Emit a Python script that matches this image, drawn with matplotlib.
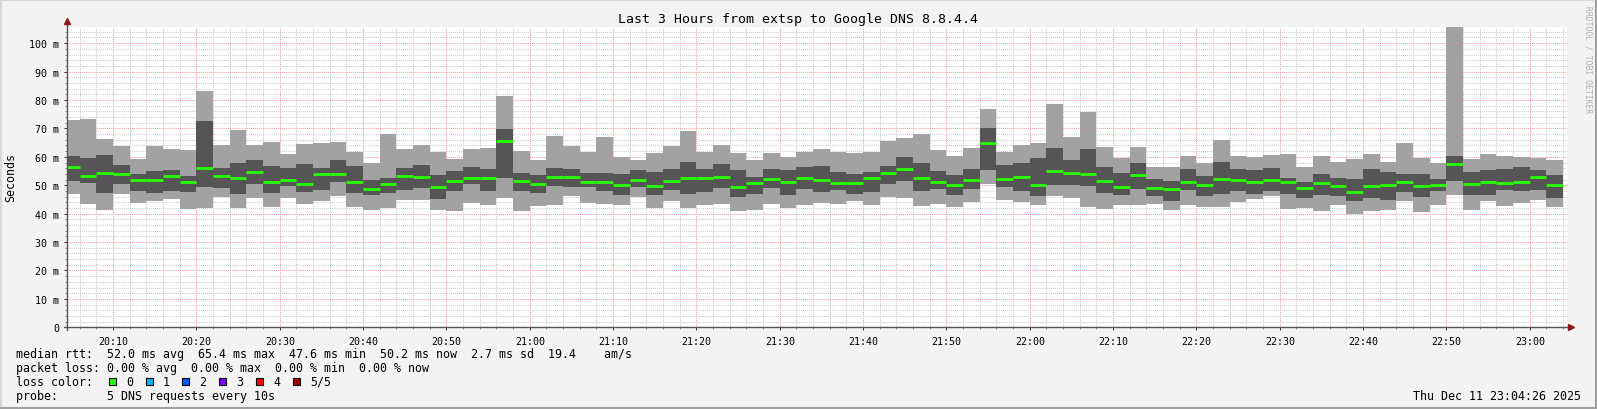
import matplotlib
matplotlib.use('Agg')
import matplotlib.pyplot as plt
from matplotlib.patches import Rectangle
from matplotlib.lines import Line2D
from matplotlib.ticker import MultipleLocator, FuncFormatter
import numpy as np

# time axis: minutes after 20:00, graph spans 20:04:26 .. 23:04:26
t_start = 4 + 26 / 60
t_end = t_start + 180
bar_edges = [t_start] + list(range(6, 185, 2))   # 2-minute smokeping steps

# five pings per step: min, 2nd, median, 4th, max (ms)
rtt_min = [47.0, 43.4, 41.3, 47.0, 43.8, 44.5, 45.2, 41.6, 42.0, 45.9,
           42.0, 45.5, 42.3, 45.5, 43.4, 44.5, 46.2, 42.3, 41.3, 42.0,
           44.8, 44.8, 41.3, 40.9, 43.8, 43.1, 45.5, 40.9, 42.7, 43.1,
           46.2, 43.8, 43.4, 43.1, 45.9, 42.0, 44.5, 42.0, 43.1, 43.4,
           40.9, 41.3, 43.4, 42.0, 43.1, 43.8, 43.4, 44.5, 43.1, 45.9,
           45.5, 42.7, 43.4, 42.3, 44.1, 50.4, 44.8, 44.1, 43.1, 46.2,
           45.5, 42.3, 41.6, 43.1, 43.1, 43.4, 41.3, 43.1, 42.3, 42.3,
           44.1, 45.2, 46.2, 41.6, 42.0, 40.9, 43.1, 40.0, 40.9, 41.3,
           44.5, 40.6, 43.1, 46.6, 41.3, 44.5, 42.7, 43.8, 44.8, 42.3]
rtt_lo = [51.5, 50.8, 47.3, 50.4, 48.0, 47.3, 48.0, 47.6, 49.4, 49.0,
          46.9, 50.4, 47.3, 49.7, 47.6, 48.3, 51.2, 47.3, 46.6, 47.3,
          48.3, 49.0, 45.2, 48.0, 50.4, 48.0, 52.6, 48.0, 47.3, 49.7,
          49.4, 49.4, 48.0, 46.6, 49.4, 46.6, 48.3, 46.9, 47.6, 49.0,
          45.9, 46.9, 49.0, 46.6, 48.7, 47.6, 48.3, 46.9, 47.6, 50.4,
          51.5, 48.0, 48.7, 46.6, 48.7, 55.4, 49.4, 48.0, 46.2, 50.1,
          50.1, 49.7, 47.3, 46.6, 48.7, 46.2, 44.5, 48.3, 46.2, 46.9,
          48.0, 46.9, 48.0, 46.9, 45.5, 46.6, 46.2, 44.5, 45.5, 44.8,
          47.6, 45.9, 48.0, 51.5, 46.6, 46.6, 48.3, 48.0, 48.3, 45.5]
rtt_median = [56.5, 53.1, 54.3, 53.8, 51.7, 51.7, 53.4, 51.0, 56.2, 53.4,
              52.4, 54.6, 51.3, 51.9, 50.6, 53.8, 54.1, 51.2, 48.7, 50.6,
              53.3, 53.0, 49.4, 51.6, 52.4, 52.4, 65.5, 51.5, 50.3, 53.0,
              53.0, 51.0, 51.0, 50.1, 51.9, 49.9, 51.4, 52.6, 52.6, 52.8,
              49.3, 50.7, 52.2, 51.3, 52.6, 51.9, 50.9, 50.7, 52.6, 54.4,
              55.7, 52.6, 51.3, 50.1, 51.7, 64.9, 52.1, 53.0, 50.2, 54.9,
              54.3, 54.0, 51.5, 49.3, 53.5, 49.0, 48.6, 51.2, 50.0, 52.2,
              51.9, 51.2, 51.7, 51.0, 48.9, 50.8, 49.6, 47.7, 49.6, 50.1,
              51.3, 49.9, 50.2, 57.5, 50.4, 51.2, 50.9, 51.2, 52.9, 50.2]
rtt_hi = [60.3, 59.6, 60.7, 57.1, 54.0, 55.0, 55.4, 53.3, 72.6, 56.1,
          57.8, 58.9, 56.8, 56.1, 57.5, 56.1, 58.9, 56.8, 51.9, 52.6,
          56.1, 57.1, 53.6, 55.0, 56.4, 55.7, 69.8, 54.4, 53.6, 56.1,
          55.7, 54.4, 54.4, 54.0, 55.4, 54.7, 55.7, 58.2, 55.7, 57.5,
          55.4, 52.9, 55.7, 55.4, 56.4, 56.8, 54.7, 54.0, 54.7, 56.8,
          60.0, 57.8, 55.0, 53.6, 55.7, 70.2, 57.1, 57.8, 59.6, 63.1,
          58.9, 62.8, 56.4, 54.4, 57.8, 52.2, 51.5, 55.7, 53.3, 58.2,
          55.7, 55.4, 56.1, 52.6, 51.2, 54.0, 52.6, 52.2, 55.7, 54.7,
          54.0, 54.0, 52.2, 60.3, 54.7, 55.4, 55.7, 56.4, 55.4, 53.6]
rtt_max = [73.0, 73.3, 66.1, 63.8, 59.2, 63.8, 62.7, 62.4, 83.2, 64.2,
           69.5, 64.2, 65.2, 61.0, 64.5, 64.8, 65.2, 61.7, 57.8, 68.1,
           62.8, 64.2, 61.7, 59.2, 62.8, 63.1, 81.4, 62.1, 58.9, 67.3,
           63.8, 61.7, 67.0, 60.0, 58.9, 61.4, 63.8, 69.1, 61.7, 64.2,
           61.4, 58.9, 61.4, 60.0, 61.7, 62.8, 61.7, 61.4, 61.7, 65.6,
           66.6, 68.1, 62.4, 60.3, 63.1, 76.9, 61.7, 64.2, 64.9, 78.6,
           67.0, 75.8, 63.5, 59.6, 63.5, 56.4, 56.4, 60.3, 57.8, 66.0,
           60.3, 60.0, 60.7, 61.0, 56.4, 60.3, 58.1, 59.2, 61.0, 58.1,
           64.9, 59.6, 57.8, 105.8, 59.2, 61.0, 60.3, 60.0, 59.6, 58.9]

loss_labels = ['0', '1', '2', '3', '4', '5/5']
loss_colors = ['#26ff00', '#00b8ff', '#0059ff', '#7e00ff', '#ff0000', '#a10000']

W, H = 1597, 410
mono = 'DejaVu Sans Mono'
plt.rcParams['font.family'] = mono

fig = plt.figure(figsize=(W / 100, H / 100), dpi=100, facecolor='#f3f3f3')
ax = fig.add_axes([66.7 / W, 1 - 328.3 / H, 1500 / W, (328.3 - 27.7) / H])
ax.set_facecolor('white')

left = np.array(bar_edges[:-1])
width = np.diff(bar_edges)
lo = np.array(rtt_min)
hi = np.array(rtt_max)
ax.bar(left, hi - lo, width=width, bottom=lo, align='edge', color='#a2a2a2', linewidth=0, zorder=2)
ax.bar(left, np.array(rtt_hi) - np.array(rtt_lo), width=width, bottom=rtt_lo, align='edge',
       color='#555555', linewidth=0, zorder=3)
ax.hlines(rtt_median, left, left + width, colors=loss_colors[0], linewidth=2.0, zorder=4)

ax.set_xlim(t_start, t_end)
ax.set_ylim(0, 105.8)

# grid like rrdtool: gray dotted minor, red dotted major
ax.xaxis.set_major_locator(MultipleLocator(10))
ax.xaxis.set_minor_locator(MultipleLocator(2))
ax.yaxis.set_major_locator(MultipleLocator(10))
ax.yaxis.set_minor_locator(MultipleLocator(2))
ax.grid(which='minor', color='#cccccc', linestyle=(0, (1, 1)), linewidth=0.75, zorder=1)
ax.grid(which='major', color='#f0a0a0', linestyle=(0, (1, 1)), linewidth=0.75, zorder=1)
ax.set_axisbelow(True)

ax.xaxis.set_major_formatter(FuncFormatter(lambda m, p: '%02d:%02d' % (20 + int(round(m)) // 60, int(round(m)) % 60)))
ax.yaxis.set_major_formatter(FuncFormatter(lambda v, p: '0' if v == 0 else '%d m' % v))
ax.tick_params(axis='both', which='major', labelsize=7.2, length=2.5, width=0.7, color='#333333', pad=3)
ax.tick_params(axis='both', which='minor', length=1.5, width=0.6, color='#777777')
ax.tick_params(axis='x', which='major', pad=3.5)

for s in ['top', 'right', 'left', 'bottom']:
    ax.spines[s].set_visible(False)

# axis lines with arrows
x0 = 66.7 / W
y0 = 1 - 328.3 / H
fig.add_artist(Line2D([x0, x0], [y0 - 3 / H, 1 - 23 / H], color='#555555', lw=1.0))
fig.add_artist(Line2D([x0 - 3 / W, 1570 / W], [y0, y0], color='#555555', lw=1.0))
fig.add_artist(Line2D([x0], [1 - 22 / H], marker='^', markersize=4.5, color='#8b1a1a', lw=0))
fig.add_artist(Line2D([1571 / W], [y0], marker='>', markersize=4.5, color='#8b1a1a', lw=0))

fig.text(10.5 / W, 1 - 177.5 / H, 'Seconds', rotation=90, ha='center', va='center', fontsize=8.4)

fig.text(0.5, 1 - 19.3 / H, 'Last 3 Hours from extsp to Google DNS 8.8.4.4', ha='center', va='center', fontsize=9.5)
fig.text(1588 / W, 1 - 60 / H, 'RRDTOOL / TOBI OETIKER', rotation=270, ha='center', va='center',
         fontsize=5.8, color='#b0b0b0')

lines = [
    'median rtt:  52.0 ms avg  65.4 ms max  47.6 ms min  50.2 ms now  2.7 ms sd  19.4    am/s',
    'packet loss: 0.00 % avg  0.00 % max  0.00 % min  0.00 % now',
    'loss color:',
    'probe:       5 DNS requests every 10s',
]
for k, s in enumerate(lines):
    fig.text(16 / W, 1 - (354.3 + 14 * k) / H, s, ha='left', va='center', fontsize=8.4)

sq_x = [108.7, 145.7, 182.3, 219.3, 256.3, 293.0]
for xs, lab, c in zip(sq_x, loss_labels, loss_colors):
    fig.add_artist(Rectangle((xs / W, 1 - 386 / H), 6.8 / W, 6.8 / H, facecolor=c,
                             edgecolor='black', linewidth=0.8))
    fig.text((xs + 17.3) / W, 1 - 382.3 / H, lab, ha='left', va='center', fontsize=8.4)

fig.text(1581 / W, 1 - 396.3 / H, 'Thu Dec 11 23:04:26 2025', ha='right', va='center', fontsize=8.4)

# 3d-ish frame
fig.add_artist(Line2D([0, 1], [1 - 0.8 / H, 1 - 0.8 / H], color='#d8d8d8', lw=1.5))
fig.add_artist(Line2D([0.8 / W, 0.8 / W], [0, 1], color='#d8d8d8', lw=1.5))
fig.add_artist(Line2D([0, 1], [1.5 / H, 1.5 / H], color='#a0a0a0', lw=2.2))
fig.add_artist(Line2D([1 - 1.5 / W, 1 - 1.5 / W], [0, 1], color='#a0a0a0', lw=2.2))

fig.savefig('out.png', dpi=100, facecolor=fig.get_facecolor())
